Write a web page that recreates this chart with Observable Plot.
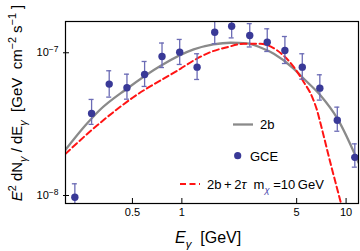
<!DOCTYPE html>
<html><head><meta charset="utf-8">
<script src="https://cdn.jsdelivr.net/npm/d3@7"></script>
<script src="https://cdn.jsdelivr.net/npm/@observablehq/plot@0.6"></script>
<style>body{margin:0;background:#fff} svg{display:block}</style>
</head><body><div id="chart"></div>
<script>
// GCE data points (E in GeV, E^2 dN/dE in GeV cm^-2 s^-1)
const energy = [0.223, 0.282, 0.361, 0.463, 0.593, 0.757, 0.970, 1.238, 1.585, 2.01, 2.59, 3.31, 4.24, 5.41, 6.92, 8.84, 11.3];
const flux   = [9.72e-9, 3.76e-8, 6.03e-8, 5.69e-8, 7.05e-8, 9.42e-8, 1.01e-7, 7.93e-8, 1.393e-7, 1.535e-7, 1.321e-7, 1.186e-7, 1.038e-7, 7.93e-8, 5.65e-8, 3.37e-8, 1.85e-8];
const fluxLo = [7.85e-9, 3.15e-8, 4.89e-8, 4.73e-8, 5.81e-8, 7.88e-8, 8.28e-8, 6.50e-8, 1.156e-7, 1.271e-7, 1.098e-7, 1.021e-7, 8.41e-8, 6.53e-8, 4.66e-8, 2.82e-8, 1.58e-8];
const fluxHi = [1.208e-8, 4.71e-8, 7.48e-8, 7.08e-8, 8.69e-8, 1.17e-7, 1.24e-7, 9.84e-8, 1.68e-7, 1.85e-7, 1.60e-7, 1.472e-7, 1.30e-7, 9.84e-8, 7.01e-8, 4.16e-8, 2.30e-8];

// 2b model curve
const bbE = [0.1956, 0.258, 0.314, 0.463, 0.739, 1.18, 1.556, 1.977, 2.50, 3.01, 3.63, 4.81, 5.53, 6.99, 8.84, 11.9];
const bbF = [2.09e-8, 3.09e-8, 3.94e-8, 5.60e-8, 8.08e-8, 1.055e-7, 1.143e-7, 1.175e-7, 1.162e-7, 1.089e-7, 9.84e-8, 7.72e-8, 6.57e-8, 5.02e-8, 3.47e-8, 1.70e-8];

// 2b+2tau model curve, m_chi = 10 GeV
const tauE = [0.1956, 0.304, 0.506, 0.979, 1.18, 1.492, 1.887, 2.382, 3.01, 3.81, 4.81, 5.53, 6.22, 6.66, 7.04, 8.04, 8.75, 9.39];
const tauF = [1.96e-8, 3.09e-8, 4.88e-8, 7.72e-8, 8.83e-8, 1.01e-7, 1.094e-7, 1.156e-7, 1.156e-7, 1.038e-7, 7.93e-8, 6.22e-8, 4.89e-8, 3.94e-8, 3.09e-8, 1.68e-8, 1.156e-8, 8.51e-9];

const xTicks = [0.5, 1, 5, 10];
const yTicks = [1e-8, 1e-7];
const xDomain = [0.1956, 11.9];
const yDomain = [8.79e-9, 1.656e-7];

const pts = energy.map((e, i) => ({E: e, F: flux[i], lo: fluxLo[i], hi: fluxHi[i]}));
const bb = bbE.map((e, i) => ({E: e, F: bbF[i]}));
const tau = tauE.map((e, i) => ({E: e, F: tauF[i]}));

const FONT = "'Liberation Sans', Arial, Helvetica, sans-serif";
const DOT = "#393997", ERR = "#6b6bb5", GRAY = "#8a8a8a", RED = "#ff1414";

const plot = Plot.plot({
  width: 360, height: 251,
  marginLeft: 65, marginRight: 2, marginTop: 21, marginBottom: 48,
  style: {fontFamily: FONT, fontSize: "11px", background: "white", color: "black"},
  x: {type: "log", domain: xDomain},
  y: {type: "log", domain: yDomain},
  marks: [
    Plot.line(bb, {x: "E", y: "F", stroke: GRAY, strokeWidth: 2.3, curve: "monotone-x", clip: true}),
    Plot.line(tau, {x: "E", y: "F", stroke: RED, strokeWidth: 2, strokeDasharray: "6,3.5", curve: "monotone-x", clip: true}),
    Plot.ruleX(pts, {x: "E", y1: "lo", y2: "hi", stroke: ERR, strokeWidth: 1.3, clip: true}),
    Plot.ruleY(pts, {y: "hi", x1: "E", x2: "E", insetLeft: -2.5, insetRight: -2.5, stroke: ERR, strokeWidth: 1.3, clip: true}),
    Plot.ruleY(pts, {y: "lo", x1: "E", x2: "E", insetLeft: -2.5, insetRight: -2.5, stroke: ERR, strokeWidth: 1.3, clip: true}),
    Plot.dot(pts, {x: "E", y: "F", r: 3.7, fill: DOT, stroke: "none", clip: true}),
    Plot.ruleX(xTicks, {insetTop: 177, stroke: "black", strokeWidth: 1}),
    Plot.ruleY(yTicks, {insetRight: 289, insetLeft: -2, stroke: "black", strokeWidth: 1}),
    Plot.frame({stroke: "black", strokeWidth: 1.2}),
    Plot.axisX({ticks: xTicks, tickSize: 0, tickPadding: 5, tickFormat: d => String(d), label: null}),
    Plot.axisY({ticks: yTicks, tickSize: 0, tickPadding: 7, tickFormat: d => "10^" + Math.round(Math.log10(d)), label: null})
  ]
});
document.getElementById("chart").appendChild(plot);

const svg = d3.select(plot);
// superscript exponents on y tick labels
svg.selectAll('g[aria-label="y-axis tick label"] text').each(function () {
  const t = d3.select(this);
  const exp = t.text().split("^")[1].replace("-", "\u2212");
  t.text("10");
  t.append("tspan").attr("dy", "-0.5em").attr("font-size", "8.5px").text(exp);
});

function rich(sel, parts) {
  let shift = 0;
  parts.forEach(([s, kind]) => {
    const ts = sel.append("tspan").text(s);
    let target = 0;
    const small = kind && (kind.includes("sup") || kind.includes("sub"));
    if (kind && kind.includes("sup")) target = -0.42;
    if (kind && kind.includes("sub")) target = 0.3;
    if (small) ts.attr("font-size", "0.72em");
    if (kind && kind.includes("i")) ts.attr("font-style", "italic");
    if (kind && kind.includes("c")) ts.attr("fill", "#4a4ab0");
    const fs = small ? 0.72 : 1;
    const dyEm = (target - shift) / fs;
    if (Math.abs(dyEm) > 1e-6) ts.attr("dy", dyEm.toFixed(3) + "em");
    shift = target;
  });
}

// y axis title
const yl = svg.append("text")
  .attr("transform", "translate(22,103) rotate(-90)")
  .attr("text-anchor", "middle").attr("font-family", FONT).attr("font-size", 15).attr("fill", "black");
rich(yl, [["E", "i"], ["2", "sup"], [" dN", ""], ["\u03b3", "sub i"], [" / dE", ""], ["\u03b3", "sub i"],
          ["  [GeV  cm", ""], ["\u22122", "sup"], [" s", ""], ["\u22121", "sup"], [" ]", ""]]);

// x axis title
const xl = svg.append("text").attr("x", 175).attr("y", 243).attr("text-anchor", "start")
  .attr("font-family", FONT).attr("font-size", 16).attr("fill", "black");
rich(xl, [["E", "i"], ["\u03b3", "sub i"], ["  [GeV]", ""]]);

// legend
const lg = svg.append("g").attr("font-family", FONT).attr("font-size", 13).attr("fill", "black").attr("text-anchor", "start");
lg.append("line").attr("x1", 233).attr("x2", 253).attr("y1", 124.5).attr("y2", 124.5)
  .attr("stroke", GRAY).attr("stroke-width", 2.3);
lg.append("text").attr("x", 260).attr("y", 129).text("2b");
lg.append("circle").attr("cx", 237.7).attr("cy", 155.7).attr("r", 3.6).attr("fill", DOT);
lg.append("text").attr("x", 250).attr("y", 160.5).text("GCE");
lg.append("line").attr("x1", 180).attr("x2", 200).attr("y1", 184).attr("y2", 184)
  .attr("stroke", RED).attr("stroke-width", 2).attr("stroke-dasharray", "6,3.5");
const lt = lg.append("text").attr("x", 207).attr("y", 189);
rich(lt, [["2b\u2009+\u20092", ""], ["\u03c4", "i"], ["  m", ""], ["\u03c7", "sub i c"], [" =10\u2009GeV", ""]]);
</script></body></html>
